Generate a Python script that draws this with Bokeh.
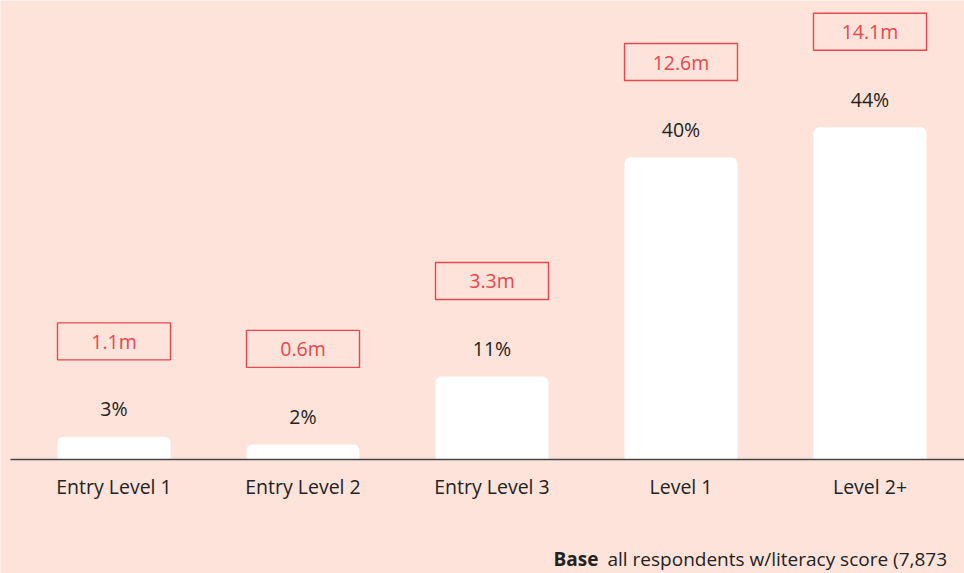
from bokeh.plotting import figure
from bokeh.models import Range1d, ColumnDataSource
from bokeh.embed import file_html
from bokeh.resources import INLINE
from bokeh.core.properties import value

# ---- data ----
categories = ["Entry Level 1", "Entry Level 2", "Entry Level 3", "Level 1", "Level 2+"]
percent = [3, 2, 11, 40, 44]
millions = [1.1, 0.6, 3.3, 12.6, 14.1]
footer_bold = "Base"
footer_rest = "all respondents w/literacy score (7,873"

# ---- layout constants (pixels) ----
W, H = 964, 573
PX_X = 189.0     # px per category slot
PX_Y = 7.55      # px per percentage point
X0 = 113.5       # screen x of first bar centre
Y0 = 459.0       # screen y of baseline
BAR_W = 113.0 / PX_X

BG = "#fde3d9"
RED = "#e8474f"
INK = "#222222"
FONT = "Open Sans"
FS = "19.5px"

src = ColumnDataSource(dict(
    x=list(range(len(categories))),
    cat=categories,
    pct=percent,
    pct_label=[f"{v}%" for v in percent],
    mil_label=[f"{m}m" for m in millions],
    box_y=[v + 95.5 / PX_Y for v in percent],
))

p = figure(width=W, height=H, output_backend="svg", toolbar_location=None,
           x_range=Range1d(-X0 / PX_X, (W - X0) / PX_X),
           y_range=Range1d(-(H - Y0) / PX_Y, Y0 / PX_Y),
           x_axis_location=None, y_axis_location=None,
           min_border=0, background_fill_color=BG, border_fill_color=BG,
           outline_line_color=None)
p.grid.visible = False

# bars
p.vbar(x="x", top="pct", bottom=0, width=BAR_W, source=src,
       fill_color="white", line_color=None, border_radius=(6, 6, 0, 0))

# baseline
p.line(x=[p.x_range.start + 10 / PX_X, p.x_range.end], y=[0, 0],
       line_color="#444444", line_width=1.6)

# percent labels
p.text(x="x", y="pct", text="pct_label", source=src, y_offset=-28,
       text_align="center", text_baseline="middle",
       text_font=value(FONT), text_font_size=FS, text_color=INK)

# red boxes with millions
p.rect(x="x", y="box_y", width=BAR_W, height=37, height_units="screen",
       source=src, fill_color=None, line_color=RED, line_width=1.4)
p.text(x="x", y="box_y", text="mil_label", source=src,
       text_align="center", text_baseline="middle",
       text_font=value(FONT), text_font_size=FS, text_color=RED)

# category labels
p.text(x="x", y=0, text="cat", source=src, y_offset=27,
       text_align="center", text_baseline="middle",
       text_font=value(FONT), text_font_size=FS, text_color=INK)

# footer
fx = (553 - X0) / PX_X
p.text(x=[fx], y=[0], text=[footer_bold], y_offset=99,
       text_align="left", text_baseline="middle",
       text_font=value(FONT), text_font_size="19px", text_font_style="bold",
       text_color=INK)
p.text(x=[fx + 54 / PX_X], y=[0], text=[footer_rest], y_offset=99,
       text_align="left", text_baseline="middle",
       text_font=value(FONT), text_font_size="19px", text_color=INK)

html = file_html(p, INLINE, title="Literacy levels")
html = html.replace("<body>", f'<body style="margin:0;background:{BG};overflow:hidden;">', 1)
open("out.html", "w").write(html)
